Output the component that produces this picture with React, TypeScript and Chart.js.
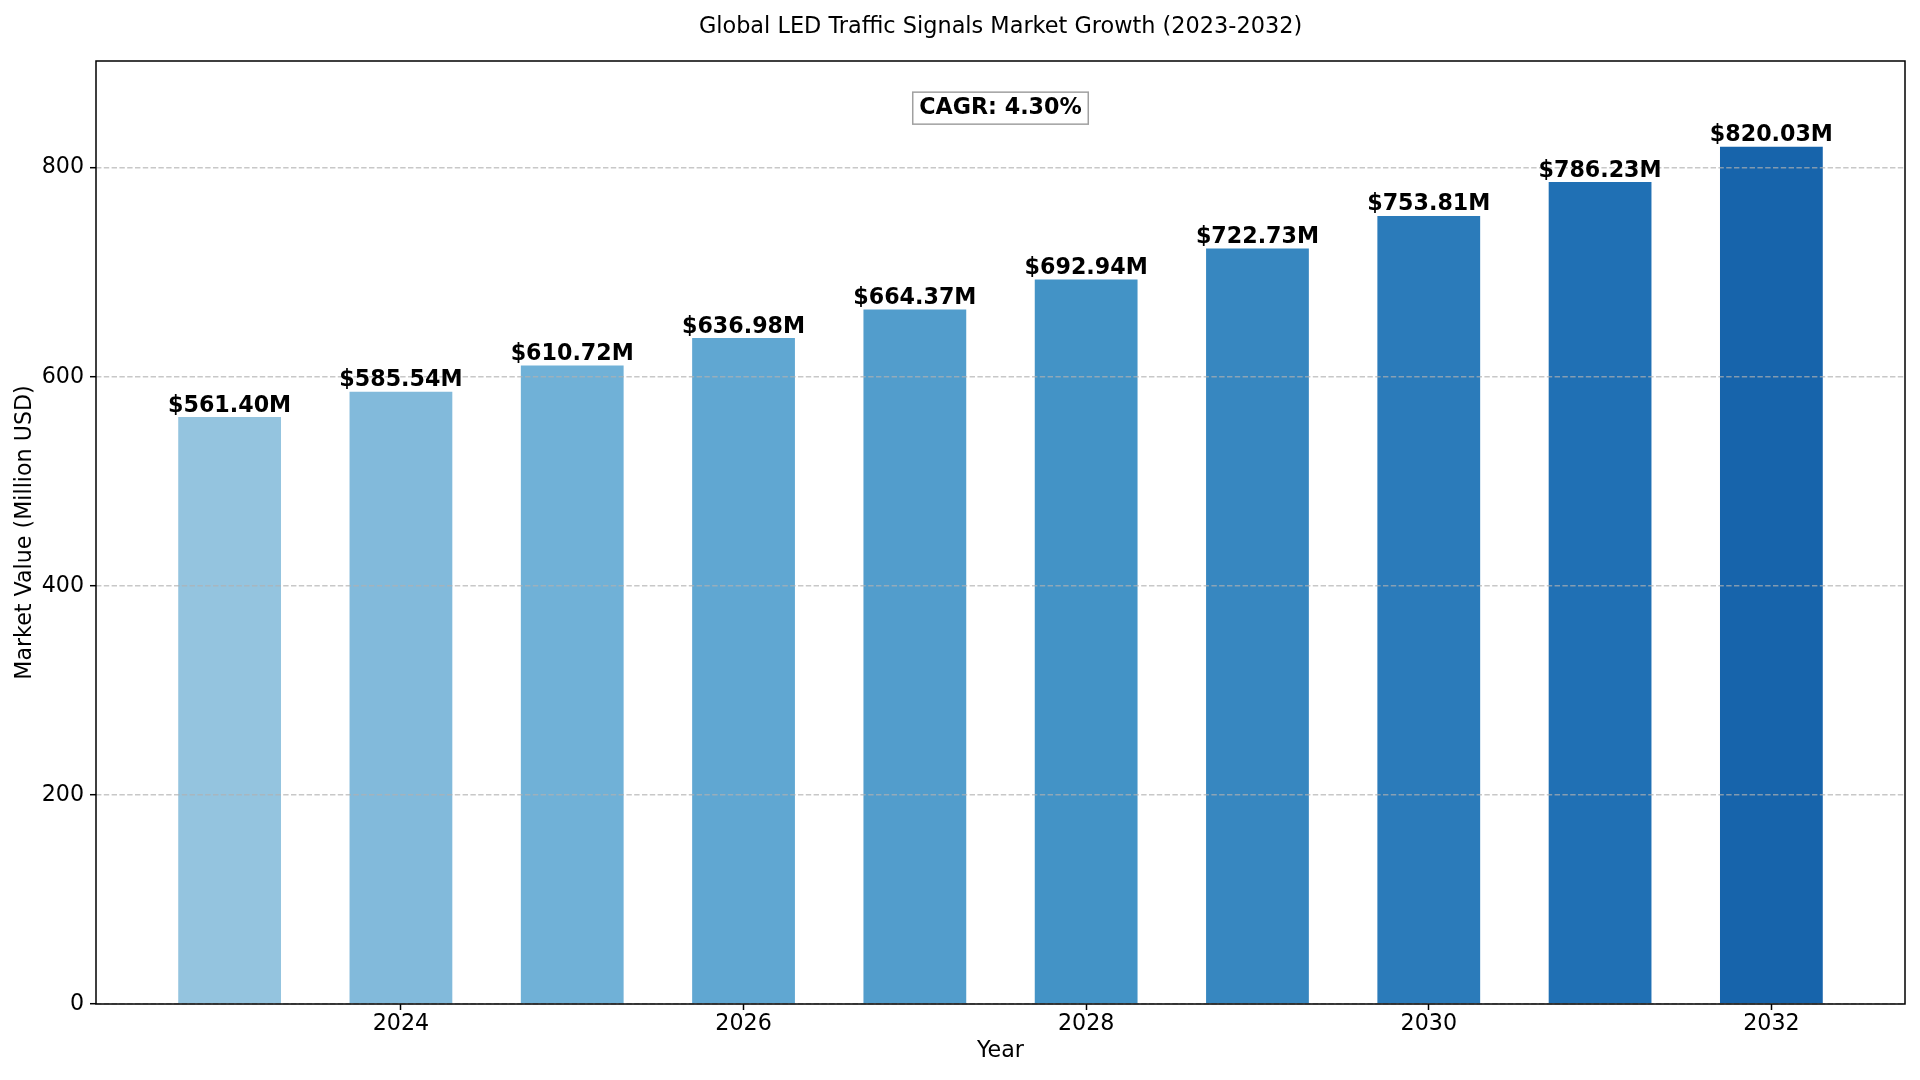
import React, { useEffect, useRef } from 'react';
import Chart from 'chart.js/auto';

const years = [2023, 2024, 2025, 2026, 2027, 2028, 2029, 2030, 2031, 2032];
const marketValues = [561.40, 585.54, 610.72, 636.98, 664.37, 692.94, 722.73, 753.81, 786.23, 820.03];
const xTickValues = [2024, 2026, 2028, 2030, 2032];
const yTickValues = [0, 200, 400, 600, 800];

const chartTitle = 'Global LED Traffic Signals Market Growth (2023-2032)';
const xAxisTitle = 'Year';
const yAxisTitle = 'Market Value (Million USD)';

// Blues colormap sampled 0.4 -> 0.8
const barColors = [
  'rgb(148,196,223)',
  'rgb(130,186,219)',
  'rgb(112,177,215)',
  'rgb(96,167,210)',
  'rgb(82,157,204)',
  'rgb(67,147,198)',
  'rgb(55,135,192)',
  'rgb(43,123,186)',
  'rgb(32,112,180)',
  'rgb(23,100,171)',
];

const FONT = "'DejaVu Sans', sans-serif";
const BAR_WIDTH = 0.6;

const cagr =
  (Math.pow(marketValues[marketValues.length - 1] / marketValues[0], 1 / (years.length - 1)) - 1) * 100;

const overlayPlugin = {
  id: 'overlay',
  afterDraw: (chart: any) => {
    const { ctx, chartArea } = chart;
    const { left, right, top, bottom } = chartArea;
    ctx.save();

    // value labels above bars
    const meta = chart.getDatasetMeta(0);
    ctx.fillStyle = '#000';
    ctx.font = `bold 22.2px ${FONT}`;
    ctx.textAlign = 'center';
    ctx.textBaseline = 'alphabetic';
    meta.data.forEach((bar: any, i: number) => {
      ctx.fillText(`$${marketValues[i].toFixed(2)}M`, bar.x, bar.y - 5.5);
    });

    // axes frame
    ctx.strokeStyle = '#000';
    ctx.lineWidth = 1.5;
    ctx.strokeRect(left, top, right - left, bottom - top);

    // title
    ctx.font = `22.4px ${FONT}`;
    ctx.fillText(chartTitle, (left + right) / 2, 33);

    // CAGR box
    const label = `CAGR: ${cagr.toFixed(2)}%`;
    ctx.font = `bold 22.2px ${FONT}`;
    const w = ctx.measureText(label).width;
    const cx = (left + right) / 2;
    const cy = top + 0.05 * (bottom - top);
    const boxW = w + 13.2;
    const boxH = 32;
    ctx.fillStyle = '#fff';
    ctx.fillRect(cx - boxW / 2, cy - boxH / 2, boxW, boxH);
    ctx.strokeStyle = 'rgb(160,160,160)';
    ctx.lineWidth = 1.5;
    ctx.strokeRect(cx - boxW / 2, cy - boxH / 2, boxW, boxH);
    ctx.fillStyle = '#000';
    ctx.fillText(label, cx, cy + 6);

    ctx.restore();
  },
};

const App = () => {
  const chartRef = useRef<HTMLCanvasElement>(null);
  const chartInstance = useRef<Chart | null>(null);

  useEffect(() => {
    if (chartInstance.current) {
      chartInstance.current.destroy();
    }
    const ctx = chartRef.current?.getContext('2d');
    if (!ctx) return;

    const half = BAR_WIDTH / 2;
    const span = years[years.length - 1] + half - (years[0] - half);
    const xMin = years[0] - half - 0.05 * span;
    const xMax = years[years.length - 1] + half + 0.05 * span;
    const yMax = Math.max(...marketValues) * 1.1;

    chartInstance.current = new Chart(ctx, {
      type: 'bar',
      data: {
        datasets: [
          {
            data: years.map((year, i) => ({ x: year, y: marketValues[i] })),
            backgroundColor: barColors,
            borderWidth: 0,
            barPercentage: BAR_WIDTH,
            categoryPercentage: 1,
          },
        ],
      },
      options: {
        animation: false,
        responsive: false,
        devicePixelRatio: 1,
        layout: { padding: { top: 61, right: 15, bottom: 0, left: 0 } },
        scales: {
          x: {
            type: 'linear',
            min: xMin,
            max: xMax,
            bounds: 'data',
            offset: false,
            afterFit: (scale: any) => {
              scale.height = 76;
            },
            afterBuildTicks: (scale: any) => {
              scale.ticks = xTickValues.map((value) => ({ value }));
            },
            grid: {
              offset: false,
              drawOnChartArea: false,
              drawTicks: true,
              tickLength: 6,
              tickColor: '#000',
              tickWidth: 1.5,
            },
            border: { display: false },
            ticks: {
              color: '#000',
              font: { family: FONT, size: 22.2 },
              padding: 1,
              maxRotation: 0,
              autoSkip: false,
              callback: (v: any) => String(v),
            },
            title: {
              display: true,
              text: xAxisTitle,
              color: '#000',
              font: { family: FONT, size: 22.2 },
              padding: { top: 0, bottom: 15 },
            },
          },
          y: {
            type: 'linear',
            min: 0,
            max: yMax,
            bounds: 'data',
            afterFit: (scale: any) => {
              scale.width = 96;
            },
            afterBuildTicks: (scale: any) => {
              scale.ticks = yTickValues.map((value) => ({ value }));
            },
            grid: {
              z: 1,
              color: 'rgba(176,176,176,0.7)',
              lineWidth: 1.4,
              drawTicks: true,
              tickLength: 6,
              tickColor: '#000',
              tickWidth: 1.5,
            },
            border: { display: false, dash: [5.4, 2.4] },
            ticks: {
              color: '#000',
              font: { family: FONT, size: 22.2 },
              padding: 6,
              autoSkip: false,
              callback: (v: any) => String(v),
            },
            title: {
              display: true,
              text: yAxisTitle,
              color: '#000',
              font: { family: FONT, size: 22.2 },
              padding: { top: 12, bottom: 0 },
            },
          },
        },
        plugins: {
          legend: { display: false },
          tooltip: { enabled: false },
          title: { display: false },
        },
      },
      plugins: [overlayPlugin],
    });

    return () => {
      if (chartInstance.current) {
        chartInstance.current.destroy();
        chartInstance.current = null;
      }
    };
  }, []);

  return (
    <div style={{ position: 'absolute', left: 0, top: 0, width: 1920, height: 1080, background: '#fff' }}>
      <canvas ref={chartRef} width={1920} height={1080} style={{ display: 'block' }} />
    </div>
  );
};

export default App;
